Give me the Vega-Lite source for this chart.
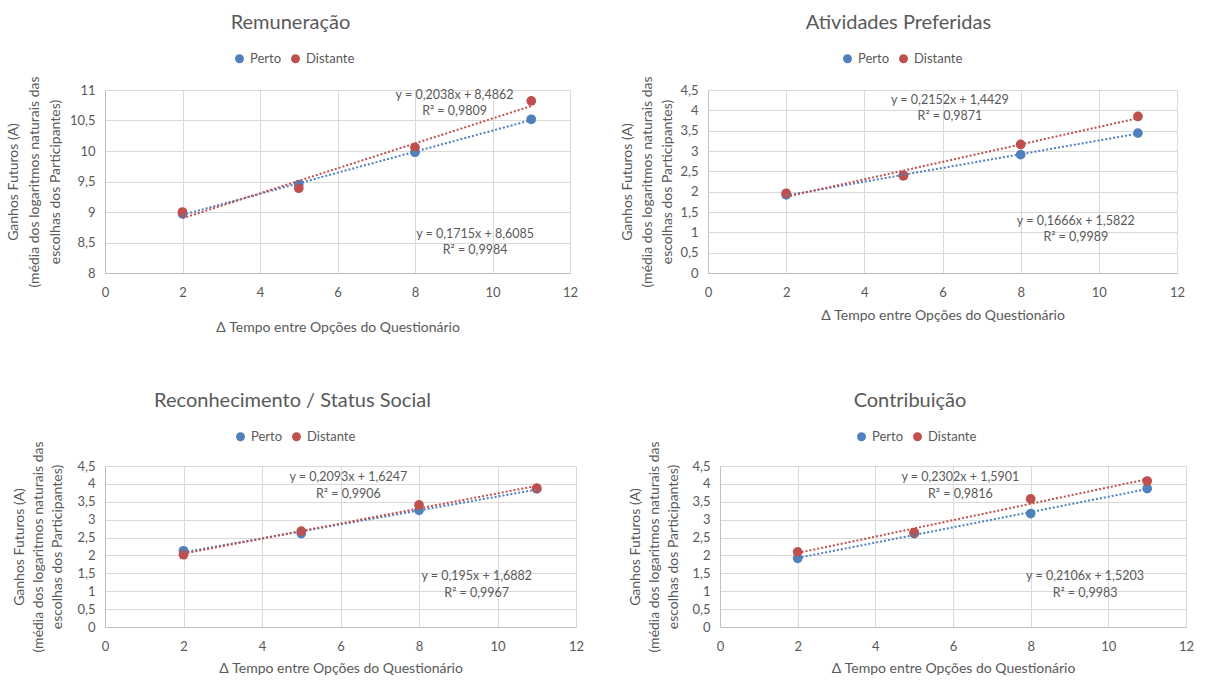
{
  "$schema": "https://vega.github.io/schema/vega-lite/v6.json",
  "padding": {"left": 6, "top": 13, "right": 0, "bottom": 0},
  "background": "white",
  "config": {
    "font": "Lato",
    "view": {"stroke": null},
    "title": {"fontSize": 20, "color": "#595959", "fontWeight": "normal", "font": "Lato", "offset": 19},
    "axis": {
      "labelColor": "#595959", "labelFontSize": 13, "labelFont": "Lato",
      "titleColor": "#595959", "titleFontSize": 14, "titleFont": "Lato", "titleFontWeight": "normal",
      "gridColor": "#D9D9D9", "gridWidth": 1, "domainColor": "#BFBFBF", "ticks": false, "labelPadding": 10,
      "labelOverlap": false, "labelFlush": false,
      "labelExpr": "replace(format(datum.value, '~g'), '.', ',')"
    },
    "axisX": {"labelPadding": 13},
    "legend": {"labelColor": "#595959", "labelFontSize": 13, "labelFont": "Lato"}
  },
  "datasets": {
    "pts": [
      {"painel": "Remuneração", "serie": "Perto", "delta": 2, "ganho": 8.97},
      {"painel": "Remuneração", "serie": "Perto", "delta": 5, "ganho": 9.45},
      {"painel": "Remuneração", "serie": "Perto", "delta": 8, "ganho": 9.98},
      {"painel": "Remuneração", "serie": "Perto", "delta": 11, "ganho": 10.52},
      {"painel": "Remuneração", "serie": "Distante", "delta": 2, "ganho": 9.0},
      {"painel": "Remuneração", "serie": "Distante", "delta": 5, "ganho": 9.39},
      {"painel": "Remuneração", "serie": "Distante", "delta": 8, "ganho": 10.06},
      {"painel": "Remuneração", "serie": "Distante", "delta": 11, "ganho": 10.82},
      {"painel": "Atividades", "serie": "Perto", "delta": 2, "ganho": 1.92},
      {"painel": "Atividades", "serie": "Perto", "delta": 5, "ganho": 2.40},
      {"painel": "Atividades", "serie": "Perto", "delta": 8, "ganho": 2.91},
      {"painel": "Atividades", "serie": "Perto", "delta": 11, "ganho": 3.44},
      {"painel": "Atividades", "serie": "Distante", "delta": 2, "ganho": 1.96},
      {"painel": "Atividades", "serie": "Distante", "delta": 5, "ganho": 2.39},
      {"painel": "Atividades", "serie": "Distante", "delta": 8, "ganho": 3.16},
      {"painel": "Atividades", "serie": "Distante", "delta": 11, "ganho": 3.85},
      {"painel": "Reconhecimento", "serie": "Perto", "delta": 2, "ganho": 2.13},
      {"painel": "Reconhecimento", "serie": "Perto", "delta": 5, "ganho": 2.61},
      {"painel": "Reconhecimento", "serie": "Perto", "delta": 8, "ganho": 3.26},
      {"painel": "Reconhecimento", "serie": "Perto", "delta": 11, "ganho": 3.86},
      {"painel": "Reconhecimento", "serie": "Distante", "delta": 2, "ganho": 2.02},
      {"painel": "Reconhecimento", "serie": "Distante", "delta": 5, "ganho": 2.68},
      {"painel": "Reconhecimento", "serie": "Distante", "delta": 8, "ganho": 3.41},
      {"painel": "Reconhecimento", "serie": "Distante", "delta": 11, "ganho": 3.88},
      {"painel": "Contribuição", "serie": "Perto", "delta": 2, "ganho": 1.92},
      {"painel": "Contribuição", "serie": "Perto", "delta": 5, "ganho": 2.61},
      {"painel": "Contribuição", "serie": "Perto", "delta": 8, "ganho": 3.17},
      {"painel": "Contribuição", "serie": "Perto", "delta": 11, "ganho": 3.87},
      {"painel": "Contribuição", "serie": "Distante", "delta": 2, "ganho": 2.10},
      {"painel": "Contribuição", "serie": "Distante", "delta": 5, "ganho": 2.64},
      {"painel": "Contribuição", "serie": "Distante", "delta": 8, "ganho": 3.58},
      {"painel": "Contribuição", "serie": "Distante", "delta": 11, "ganho": 4.08}
    ],
    "eq": [
      {"painel": "Remuneração", "delta": 9.02, "ganho": 10.92, "txt": "y = 0,2038x + 8,4862"},
      {"painel": "Remuneração", "delta": 9.02, "ganho": 10.655, "txt": "R² = 0,9809"},
      {"painel": "Remuneração", "delta": 9.55, "ganho": 8.64, "txt": "y = 0,1715x + 8,6085"},
      {"painel": "Remuneração", "delta": 9.55, "ganho": 8.37, "txt": "R² = 0,9984"},
      {"painel": "Atividades", "delta": 6.19, "ganho": 4.25, "txt": "y = 0,2152x + 1,4429"},
      {"painel": "Atividades", "delta": 6.19, "ganho": 3.85, "txt": "R² = 0,9871"},
      {"painel": "Atividades", "delta": 9.41, "ganho": 1.29, "txt": "y = 0,1666x + 1,5822"},
      {"painel": "Atividades", "delta": 9.41, "ganho": 0.88, "txt": "R² = 0,9989"},
      {"painel": "Reconhecimento", "delta": 6.2, "ganho": 4.2, "txt": "y = 0,2093x + 1,6247"},
      {"painel": "Reconhecimento", "delta": 6.2, "ganho": 3.73, "txt": "R² = 0,9906"},
      {"painel": "Reconhecimento", "delta": 9.47, "ganho": 1.43, "txt": "y = 0,195x + 1,6882"},
      {"painel": "Reconhecimento", "delta": 9.47, "ganho": 0.96, "txt": "R² = 0,9967"},
      {"painel": "Contribuição", "delta": 6.19, "ganho": 4.2, "txt": "y = 0,2302x + 1,5901"},
      {"painel": "Contribuição", "delta": 6.19, "ganho": 3.73, "txt": "R² = 0,9816"},
      {"painel": "Contribuição", "delta": 9.4, "ganho": 1.43, "txt": "y = 0,2106x + 1,5203"},
      {"painel": "Contribuição", "delta": 9.4, "ganho": 0.96, "txt": "R² = 0,9983"}
    ]
  },
  "vconcat": [
    {
      "spacing": 42,
      "resolve": {"legend": {"color": "independent"}},
      "hconcat": [
        {
          "width": 465, "height": 183,
          "title": {"text": "Remuneração", "dx": -47},
          "encoding": {
            "x": {"field": "delta", "type": "quantitative", "scale": {"domain": [0, 12], "nice": false},
                  "axis": {"values": [0, 2, 4, 6, 8, 10, 12], "title": "Δ Tempo entre Opções do Questionário", "titlePadding": 21}},
            "y": {"field": "ganho", "type": "quantitative", "scale": {"domain": [8, 11], "zero": false, "nice": false},
                  "axis": {"values": [8, 8.5, 9, 9.5, 10, 10.5, 11], "tickCount": 7, "title": ["Ganhos Futuros (A)", "(média dos logaritmos naturais das", "escolhas dos Participantes)"], "titleLineHeight": 21, "titlePadding": 7}}
          },
          "layer": [
            {
              "data": {"name": "pts"},
              "transform": [{"filter": "datum.painel === 'Remuneração'"}],
              "mark": {"type": "point", "filled": true, "size": 95, "opacity": 1},
              "encoding": {
                "color": {"field": "serie", "type": "nominal", "scale": {"domain": ["Perto", "Distante"], "range": ["#4F81BD", "#C0504D"]},
                          "legend": {"orient": "none", "legendX": 128, "legendY": -38, "direction": "horizontal", "title": null, "symbolType": "circle", "symbolSize": 80, "symbolStrokeWidth": 0, "columnPadding": 7}}
              }
            },
            {
              "data": {"name": "pts"},
              "transform": [{"filter": "datum.painel === 'Remuneração'"}, {"regression": "ganho", "on": "delta", "groupby": ["serie"]}],
              "mark": {"type": "line", "strokeDash": [2, 2], "strokeWidth": 2},
              "encoding": {"color": {"field": "serie", "type": "nominal"}}
            },
            {
              "data": {"name": "eq"},
              "transform": [{"filter": "datum.painel === 'Remuneração'"}],
              "mark": {"type": "text", "fontSize": 12.5, "color": "#595959", "font": "Lato", "baseline": "middle"},
              "encoding": {"text": {"field": "txt"}}
            }
          ]
        },
        {
          "width": 469, "height": 183,
          "title": {"text": "Atividades Preferidas", "dx": -44},
          "encoding": {
            "x": {"field": "delta", "type": "quantitative", "scale": {"domain": [0, 12], "nice": false},
                  "axis": {"values": [0, 2, 4, 6, 8, 10, 12], "title": "Δ Tempo entre Opções do Questionário", "titlePadding": 9}},
            "y": {"field": "ganho", "type": "quantitative", "scale": {"domain": [0, 4.5], "nice": false},
                  "axis": {"values": [0, 0.5, 1, 1.5, 2, 2.5, 3, 3.5, 4, 4.5], "tickCount": 10, "title": ["Ganhos Futuros (A)", "(média dos logaritmos naturais das", "escolhas dos Participantes)"], "titleLineHeight": 20, "titlePadding": 5}}
          },
          "layer": [
            {
              "data": {"name": "pts"},
              "transform": [{"filter": "datum.painel === 'Atividades'"}],
              "mark": {"type": "point", "filled": true, "size": 95, "opacity": 1},
              "encoding": {
                "color": {"field": "serie", "type": "nominal", "scale": {"domain": ["Perto", "Distante"], "range": ["#4F81BD", "#C0504D"]},
                          "legend": {"orient": "none", "legendX": 133, "legendY": -38, "direction": "horizontal", "title": null, "symbolType": "circle", "symbolSize": 80, "symbolStrokeWidth": 0, "columnPadding": 7}}
              }
            },
            {
              "data": {"name": "pts"},
              "transform": [{"filter": "datum.painel === 'Atividades'"}, {"regression": "ganho", "on": "delta", "groupby": ["serie"]}],
              "mark": {"type": "line", "strokeDash": [2, 2], "strokeWidth": 2},
              "encoding": {"color": {"field": "serie", "type": "nominal"}}
            },
            {
              "data": {"name": "eq"},
              "transform": [{"filter": "datum.painel === 'Atividades'"}],
              "mark": {"type": "text", "fontSize": 12.5, "color": "#595959", "font": "Lato", "baseline": "middle"},
              "encoding": {"text": {"field": "txt"}}
            }
          ]
        }
      ]
    },
    {
      "spacing": 44,
      "resolve": {"legend": {"color": "independent"}},
      "hconcat": [
        {
          "width": 471, "height": 161,
          "title": {"text": "Reconhecimento / Status Social", "dx": -48},
          "encoding": {
            "x": {"field": "delta", "type": "quantitative", "scale": {"domain": [0, 12], "nice": false},
                  "axis": {"values": [0, 2, 4, 6, 8, 10, 12], "title": "Δ Tempo entre Opções do Questionário", "titlePadding": 8}},
            "y": {"field": "ganho", "type": "quantitative", "scale": {"domain": [0, 4.5], "nice": false},
                  "axis": {"values": [0, 0.5, 1, 1.5, 2, 2.5, 3, 3.5, 4, 4.5], "tickCount": 10, "title": ["Ganhos Futuros (A)", "(média dos logaritmos naturais das", "escolhas dos Participantes)"], "titleLineHeight": 19, "titlePadding": 12}}
          },
          "layer": [
            {
              "data": {"name": "pts"},
              "transform": [{"filter": "datum.painel === 'Reconhecimento'"}],
              "mark": {"type": "point", "filled": true, "size": 95, "opacity": 1},
              "encoding": {
                "color": {"field": "serie", "type": "nominal", "scale": {"domain": ["Perto", "Distante"], "range": ["#4F81BD", "#C0504D"]},
                          "legend": {"orient": "none", "legendX": 129, "legendY": -36, "direction": "horizontal", "title": null, "symbolType": "circle", "symbolSize": 80, "symbolStrokeWidth": 0, "columnPadding": 7}}
              }
            },
            {
              "data": {"name": "pts"},
              "transform": [{"filter": "datum.painel === 'Reconhecimento'"}, {"regression": "ganho", "on": "delta", "groupby": ["serie"]}],
              "mark": {"type": "line", "strokeDash": [2, 2], "strokeWidth": 2},
              "encoding": {"color": {"field": "serie", "type": "nominal"}}
            },
            {
              "data": {"name": "eq"},
              "transform": [{"filter": "datum.painel === 'Reconhecimento'"}],
              "mark": {"type": "text", "fontSize": 12.5, "color": "#595959", "font": "Lato", "baseline": "middle"},
              "encoding": {"text": {"field": "txt"}}
            }
          ]
        },
        {
          "width": 466, "height": 161,
          "title": {"text": "Contribuição", "dx": -43},
          "encoding": {
            "x": {"field": "delta", "type": "quantitative", "scale": {"domain": [0, 12], "nice": false},
                  "axis": {"values": [0, 2, 4, 6, 8, 10, 12], "title": "Δ Tempo entre Opções do Questionário", "titlePadding": 8}},
            "y": {"field": "ganho", "type": "quantitative", "scale": {"domain": [0, 4.5], "nice": false},
                  "axis": {"values": [0, 0.5, 1, 1.5, 2, 2.5, 3, 3.5, 4, 4.5], "tickCount": 10, "title": ["Ganhos Futuros (A)", "(média dos logaritmos naturais das", "escolhas dos Participantes)"], "titleLineHeight": 19, "titlePadding": 11}}
          },
          "layer": [
            {
              "data": {"name": "pts"},
              "transform": [{"filter": "datum.painel === 'Contribuição'"}],
              "mark": {"type": "point", "filled": true, "size": 95, "opacity": 1},
              "encoding": {
                "color": {"field": "serie", "type": "nominal", "scale": {"domain": ["Perto", "Distante"], "range": ["#4F81BD", "#C0504D"]},
                          "legend": {"orient": "none", "legendX": 135, "legendY": -36, "direction": "horizontal", "title": null, "symbolType": "circle", "symbolSize": 80, "symbolStrokeWidth": 0, "columnPadding": 7}}
              }
            },
            {
              "data": {"name": "pts"},
              "transform": [{"filter": "datum.painel === 'Contribuição'"}, {"regression": "ganho", "on": "delta", "groupby": ["serie"]}],
              "mark": {"type": "line", "strokeDash": [2, 2], "strokeWidth": 2},
              "encoding": {"color": {"field": "serie", "type": "nominal"}}
            },
            {
              "data": {"name": "eq"},
              "transform": [{"filter": "datum.painel === 'Contribuição'"}],
              "mark": {"type": "text", "fontSize": 12.5, "color": "#595959", "font": "Lato", "baseline": "middle"},
              "encoding": {"text": {"field": "txt"}}
            }
          ]
        }
      ]
    }
  ],
  "spacing": 57,
  "resolve": {"legend": {"color": "independent"}}
}
